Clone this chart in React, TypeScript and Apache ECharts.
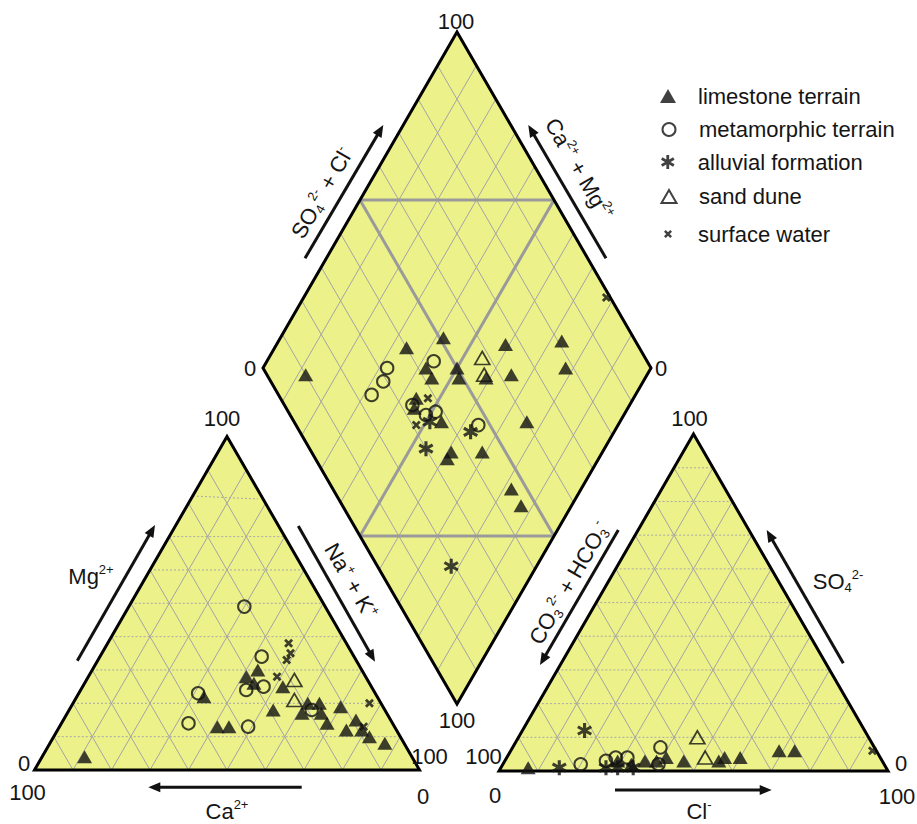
import React, { useEffect, useRef } from "react";
import * as echarts from "echarts";

// ---------------- DATA (percent of meq) ----------------
// Cation triangle: [Ca2+, Mg2+, Na+ + K+]
const limestoneCations = [
  [85, 4, 11], [27, 30, 43], [31, 28, 41], [30, 26, 44], [45, 22, 33], [23, 25, 52],
  [29, 18, 53], [22, 17, 61], [19, 20, 61], [16, 20, 64], [17, 17, 66], [17, 14, 69],
  [11, 19, 70], [13, 12, 75], [9, 15, 76], [9, 12, 79], [8, 10, 82], [5, 8, 87],
  [46, 13, 41], [43, 13, 44],
];
const metamorphicCations = [
  [21, 49, 30], [24, 34, 42], [46, 23, 31], [33, 24, 43], [28, 25, 47], [53, 14, 33],
  [38, 13, 49], [19, 18, 63],
];
const alluvialCations: number[][] = [];
const sandDuneCations = [[19, 27, 54], [22, 21, 57]];
const surfaceWaterCations = [[15, 38, 47], [16, 35, 49], [18, 33, 49], [23, 28, 49], [3, 20, 77], [8, 13, 79]];

// Anion triangle: [Cl-, SO4 2-, CO3 2- + HCO3-]
const limestoneAnions = [
  [7, 1, 92], [29, 3, 68], [33, 2, 65], [36, 3, 61], [39, 3, 58], [41, 4, 55],
  [46, 3, 51], [55, 3, 42], [56, 4, 40], [60, 4, 36], [69, 6, 25], [73, 6, 21],
];
const metamorphicAnions = [[20, 2, 78], [26, 3, 71], [28, 4, 68], [31, 4, 65], [38, 7, 55], [40, 2, 58]];
const alluvialAnions = [[15, 1, 84], [16, 12, 72], [27, 1, 72], [30, 1, 69], [34, 1, 65]];
const sandDuneAnions = [[46, 10, 44], [51, 4, 45]];
const surfaceWaterAnions = [[93, 6, 1]];

// Diamond: [SO4 2- + Cl-, Ca2+ + Mg2+]
const limestoneDiamond = [
  [10, 88], [40, 66], [51, 58], [66, 41], [81, 27], [78, 22], [42, 58], [42, 55],
  [50, 50], [49, 48], [56, 41], [63, 35], [35, 56], [33, 55], [38, 46], [60, 24],
  [36, 39], [34, 39], [44, 31], [46, 18], [46, 13],
];
const metamorphicDiamond = [[32, 68], [29, 67], [24, 68], [45, 57], [33, 56], [35, 51], [38, 49], [47, 36]];
const alluvialDiamond = [[35, 49], [44, 37], [30, 46], [19, 22]];
const sandDuneDiamond = [[58, 45], [56, 42]];
const surfaceWaterDiamond = [[99, 22], [38, 53], [31, 52]];

const groupNames = ["limestone terrain", "metamorphic terrain", "alluvial formation", "sand dune", "surface water"];
const gridSteps = [10, 20, 30, 40, 50, 60, 70, 80, 90];

// ---------------- LAYOUT ----------------
const FONT = "'Liberation Sans', Arial, Helvetica, sans-serif";
const FILL = "#ecf18a";
const TEXT = "#151515";
const FS = 22;
const H = Math.sqrt(3) / 2;
const LEFT_ORIGIN = [34.5, 770];
const LEFT_SIDE = 385;
const RIGHT_ORIGIN = [499, 771];
const RIGHT_SIDE = 389;
const D_BOTTOM = [457, 704];
const D_HALF_W = 194;
const D_HALF_H = 336;

const triVerts = (o: number[], s: number) => [
  [o[0], o[1]],
  [o[0] + s, o[1]],
  [o[0] + s / 2, o[1] - s * H],
];
const LV = triVerts(LEFT_ORIGIN, LEFT_SIDE); // Ca100, Na+K100, Mg100
const RV = triVerts(RIGHT_ORIGIN, RIGHT_SIDE); // HCO3 100, Cl100, SO4 100

const bary = (v: number[][], wa: number, wb: number, wc: number) => {
  const t = wa + wb + wc;
  return [
    (wa * v[0][0] + wb * v[1][0] + wc * v[2][0]) / t,
    (wa * v[0][1] + wb * v[1][1] + wc * v[2][1]) / t,
  ];
};
const leftXY = (p: number[]) => bary(LV, p[0], p[2], p[1]);
const rightXY = (p: number[]) => bary(RV, p[2], p[0], p[1]);
const diamondXY = (p: number[]) => [
  D_BOTTOM[0] + (D_HALF_W * (p[0] - p[1])) / 100,
  D_BOTTOM[1] - (D_HALF_H * (p[0] + p[1])) / 100,
];
const DV = [diamondXY([0, 100]), diamondXY([100, 100]), diamondXY([100, 0]), diamondXY([0, 0])];

const lerp = (P: number[], Q: number[], t: number) => [P[0] + (Q[0] - P[0]) * t, P[1] + (Q[1] - P[1]) * t];

// grid segments
const solidSegs: number[][] = [];
const dottedSegs: number[][] = [];
const triGrid = (v: number[][], maxHoriz: number) => {
  const [A, B, C] = v;
  gridSteps.forEach((k) => {
    const t = k / 100;
    if (k <= maxHoriz) {
      const p = lerp(A, C, t), q = lerp(B, C, t);
      dottedSegs.push([p[0], p[1], q[0], q[1]]);
    }
    const p1 = lerp(A, B, t), q1 = lerp(C, B, t);
    solidSegs.push([p1[0], p1[1], q1[0], q1[1]]);
    const p2 = lerp(B, A, t), q2 = lerp(C, A, t);
    solidSegs.push([p2[0], p2[1], q2[0], q2[1]]);
  });
};
triGrid(LV, 70);
triGrid(RV, 90);
dottedSegs.push([193, 496, 258, 499]);
gridSteps.forEach((k) => {
  const a1 = diamondXY([k, 0]), a2 = diamondXY([k, 100]);
  solidSegs.push([a1[0], a1[1], a2[0], a2[1]]);
  const c1 = diamondXY([0, k]), c2 = diamondXY([100, k]);
  solidSegs.push([c1[0], c1[1], c2[0], c2[1]]);
});
const faciesSegs = [
  [[50, 100], [100, 50]],
  [[0, 50], [50, 0]],
  [[50, 0], [50, 100]],
  [[0, 50], [100, 50]],
].map(([p, q]) => {
  const a = diamondXY(p), b = diamondXY(q);
  return [a[0], a[1], b[0], b[1]];
});

const shapes = [LV, RV, DV];

const ASTERISK =
  "path://M8,0 L12,0 L12,20 L8,20 Z M19.66,13.27 L17.66,16.73 L0.34,6.73 L2.34,3.27 Z M2.34,16.73 L0.34,13.27 L17.66,3.27 L19.66,6.73 Z";
const CROSS =
  "path://M18.13,14.6 L14.6,18.13 L1.87,5.4 L5.4,1.87 Z M5.4,18.13 L1.87,14.6 L14.6,1.87 L18.13,5.4 Z";

const rich = {
  sup: { fontSize: 13, verticalAlign: "top", fontFamily: FONT, fill: TEXT, lineHeight: 26 },
  sub: { fontSize: 13, verticalAlign: "bottom", fontFamily: FONT, fill: TEXT, lineHeight: 26 },
  b: { fontSize: FS, fontFamily: FONT, fill: TEXT, lineHeight: 26 },
};

function label(text: string, x: number, y: number, rotation = 0) {
  return {
    type: "text",
    x,
    y,
    rotation,
    silent: true,
    z: 10,
    style: { text, fontSize: FS, fontFamily: FONT, fill: TEXT, align: "center", verticalAlign: "middle", rich },
  };
}

function arrow(x1: number, y1: number, x2: number, y2: number) {
  const dx = x2 - x1, dy = y2 - y1, L = Math.hypot(dx, dy);
  const ux = dx / L, uy = dy / L;
  const hl = 12, hw = 5;
  const bx = x2 - ux * hl, by = y2 - uy * hl;
  return [
    { type: "line", silent: true, z: 10, shape: { x1, y1, x2: bx + ux * 2, y2: by + uy * 2 }, style: { stroke: "#111", lineWidth: 3 } },
    {
      type: "polygon",
      silent: true,
      z: 10,
      shape: { points: [[x2, y2], [bx - uy * hw, by + ux * hw], [bx + uy * hw, by - ux * hw]] },
      style: { fill: "#111" },
    },
  ];
}

const segSeries = (data: number[][], style: any, z: number) => ({
  type: "custom",
  coordinateSystem: "cartesian2d",
  silent: true,
  z,
  data,
  encode: { x: [0, 2], y: [1, 3] },
  renderItem: (params: any, api: any) => {
    const p1 = api.coord([api.value(0), api.value(1)]);
    const p2 = api.coord([api.value(2), api.value(3)]);
    return { type: "line", shape: { x1: p1[0], y1: p1[1], x2: p2[0], y2: p2[1] }, style };
  },
});

const polySeries = (style: any, z: number) => ({
  type: "custom",
  coordinateSystem: "cartesian2d",
  silent: true,
  z,
  data: shapes.map((s, i) => [s[0][0], s[0][1], i]),
  encode: { x: 0, y: 1 },
  renderItem: (params: any, api: any) => {
    const s = shapes[params.dataIndex];
    return { type: "polygon", shape: { points: s.map((p) => api.coord(p)) }, style };
  },
});

const groups = [
  { name: groupNames[0], cat: limestoneCations, an: limestoneAnions, dia: limestoneDiamond, symbol: "triangle", size: [15, 13], style: { color: "#111" }, legendSize: [16, 14], rowY: 92 },
  { name: groupNames[1], cat: metamorphicCations, an: metamorphicAnions, dia: metamorphicDiamond, symbol: "circle", size: 12.5, style: { color: "rgba(0,0,0,0)", borderColor: "#111", borderWidth: 2 }, legendSize: [13, 13], rowY: 125 },
  { name: groupNames[2], cat: alluvialCations, an: alluvialAnions, dia: alluvialDiamond, symbol: ASTERISK, size: 15, style: { color: "#111" }, legendSize: [14, 14], rowY: 158 },
  { name: groupNames[3], cat: sandDuneCations, an: sandDuneAnions, dia: sandDuneDiamond, symbol: "triangle", size: [15, 13], style: { color: "rgba(0,0,0,0)", borderColor: "#111", borderWidth: 1.7 }, legendSize: [15, 13], rowY: 192 },
  { name: groupNames[4], cat: surfaceWaterCations, an: surfaceWaterAnions, dia: surfaceWaterDiamond, symbol: CROSS, size: 9, style: { color: "#111" }, legendSize: [8, 8], rowY: 227 },
];

export default function App() {
  const ref = useRef<HTMLDivElement>(null);
  useEffect(() => {
    if (!ref.current) return;
    const chart = echarts.init(ref.current, undefined, { renderer: "svg" });
    const scatterSeries = groups.map((g) => ({
      name: g.name,
      type: "scatter",
      z: 6,
      symbol: g.symbol,
      symbolSize: g.size,
      itemStyle: g.style,
      emphasis: { disabled: true },
      data: [...g.cat.map(leftXY), ...g.an.map(rightXY), ...g.dia.map(diamondXY)],
    }));
    const legends = groups.map((g) => {
      const [w, h] = g.legendSize;
      const left = 668 - w / 2;
      return {
        data: [g.name],
        orient: "vertical",
        left,
        top: g.rowY - h / 2,
        padding: 0,
        itemWidth: w,
        itemHeight: h,
        selectedMode: false,
        textStyle: { fontSize: FS, fontFamily: FONT, color: TEXT, padding: [0, 0, 0, 698 - (left + w + 5)] },
      };
    });
    const graphics: any[] = [
      label("100", 456, 21),
      label("0", 250, 368),
      label("0", 661, 368),
      label("100", 457, 720),
      label("100", 222, 418),
      label("0", 24, 763),
      label("100", 27.5, 792),
      label("0", 423, 796),
      label("100", 429.5, 756),
      label("100", 689.5, 418),
      label("100", 483.5, 756),
      label("0", 495, 795),
      label("100", 897, 796),
      label("0", 901, 763),
      label("{b|Mg}{sup|2+}", 91, 576),
      label("{b|Na}{sup|+}{b| + K}{sup|+}", 351, 581, -Math.PI / 3),
      label("{b|Ca}{sup|2+}", 227, 811),
      label("{b|Cl}{sup|-}", 699, 811),
      label("{b|SO}{sub|4}{sup|2-}", 838, 581),
      label("{b|CO}{sub|3}{sup|2-}{b| + HCO}{sub|3}{sup|-}", 569, 583, Math.PI / 3),
      label("{b|SO}{sub|4}{sup|2-}{b| + Cl}{sup|-}", 322, 193, Math.PI / 3),
      label("{b|Ca}{sup|2+}{b| + Mg}{sup|2+}", 579, 169, -Math.PI / 3),
      ...arrow(301.7, 787.3, 148.3, 787.3),
      ...arrow(77.3, 660.7, 155, 525),
      ...arrow(298.3, 526, 375, 661.7),
      ...arrow(615, 790, 771.7, 790),
      ...arrow(843.3, 663.3, 766.7, 530),
      ...arrow(618.3, 530, 540, 665),
      ...arrow(305, 258.3, 383.3, 125),
      ...arrow(606, 258.3, 528.3, 125),
    ];
    chart.setOption({
      animation: false,
      backgroundColor: "#ffffff",
      textStyle: { fontFamily: FONT },
      grid: { left: 0, right: 0, top: 0, bottom: 0 },
      xAxis: { type: "value", min: 0, max: 917, show: false },
      yAxis: { type: "value", min: 0, max: 824, inverse: true, show: false },
      legend: legends,
      graphic: graphics,
      series: [
        polySeries({ fill: FILL, stroke: "none" }, 1),
        segSeries(dottedSegs, { stroke: "#a8a8a8", lineWidth: 1, lineDash: [2, 2] }, 2),
        segSeries(solidSegs, { stroke: "#a4a4a4", lineWidth: 1 }, 2),
        segSeries(faciesSegs, { stroke: "#9a9a9a", lineWidth: 3 }, 3),
        polySeries({ fill: "none", stroke: "#000", lineWidth: 3, lineJoin: "miter" }, 4),
        ...scatterSeries,
      ],
    });
    return () => chart.dispose();
  }, []);
  return <div ref={ref} style={{ position: "absolute", left: 0, top: 0, width: 917, height: 824 }} />;
}
